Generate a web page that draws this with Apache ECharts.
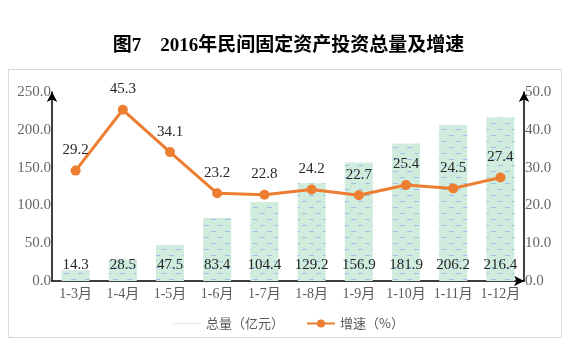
<!DOCTYPE html>
<html>
<head>
<meta charset="utf-8">
<script src="https://cdn.jsdelivr.net/npm/echarts@6/dist/echarts.min.js"></script>
<style>
  html, body { margin: 0; padding: 0; background: #fff; }
  #main { width: 577px; height: 351px; }
</style>
</head>
<body>
<div id="main"></div>
<script>
var months = ['1-3月', '1-4月', '1-5月', '1-6月', '1-7月', '1-8月', '1-9月', '1-10月', '1-11月', '1-12月'];
var totals = [14.3, 28.5, 47.5, 83.4, 104.4, 129.2, 156.9, 181.9, 206.2, 216.4];
var growth = [29.2, 45.3, 34.1, 23.2, 22.8, 24.2, 22.7, 25.4, 24.5, 27.4];

var serif = '"Liberation Serif", "DejaVu Serif", "Noto Sans CJK SC", serif';

// bar fill: light green with short blue dashes
function barPattern() {
    var c = document.createElement('canvas');
    c.width = 14;
    c.height = 12;
    var ctx = c.getContext('2d');
    ctx.fillStyle = '#cfecdc';
    ctx.fillRect(0, 0, 14, 12);
    ctx.fillStyle = '#9fc0e8';
    ctx.fillRect(1, 3, 5, 1);
    ctx.fillRect(8, 9, 5, 1);
    return c;
}

function oneDecimal(v) {
    return (typeof v === 'number' ? v : v.value).toFixed(1)
}

var chart = echarts.init(document.getElementById('main'));
chart.setOption({
    backgroundColor: '#fff',
    title: {
        text: '图7　2016年民间固定资产投资总量及增速',
        left: 'center',
        top: 32,
        textStyle: {
            fontFamily: serif,
            fontSize: 19,
            fontWeight: 'bold',
            color: '#000'
        }
    },
    graphic: [{
        type: 'rect',
        shape: { x: 8.5, y: 69.5, width: 553, height: 268 },
        style: { fill: 'none', stroke: '#d9d9d9', lineWidth: 1 },
        z: -1
    }],
    legend: {
        bottom: 16,
        left: 'center',
        itemWidth: 28,
        itemHeight: 10,
        itemGap: 22,
        textStyle: { color: '#595959', fontSize: 13, fontFamily: '"Noto Sans CJK SC", sans-serif' },
        data: [
            { name: '总量（亿元）', icon: 'path://M0,0H30V1H0Z', itemStyle: { color: '#dce8f6' } },
            { name: '增速（%）' }
        ]
    },
    grid: { left: 52, right: 53, top: 92, bottom: 70 },
    xAxis: {
        type: 'category',
        data: months,
        axisLine: { lineStyle: { color: '#000', width: 1.5 }, symbol: ['none', 'arrow'], symbolSize: [8, 10] },
        axisTick: { show: false },
        axisLabel: { color: '#595959', fontSize: 14, fontFamily: serif, margin: 6, interval: 0 }
    },
    yAxis: [{
        type: 'value',
        min: 0,
        max: 250,
        interval: 50,
        splitLine: { show: false },
        axisLine: { show: true, lineStyle: { color: '#000', width: 1.5 }, symbol: ['none', 'arrow'], symbolSize: [8, 10] },
        axisTick: { show: false },
        axisLabel: { color: '#666', fontSize: 15, fontFamily: serif, margin: 1, formatter: oneDecimal }
    }, {
        type: 'value',
        min: 0,
        max: 50,
        interval: 10,
        splitLine: { show: false },
        axisLine: { show: true, lineStyle: { color: '#000', width: 1.5 }, symbol: ['none', 'arrow'], symbolSize: [8, 10] },
        axisTick: { show: false },
        axisLabel: { color: '#666', fontSize: 15, fontFamily: serif, margin: 1, formatter: oneDecimal }
    }],
    series: [{
        name: '总量（亿元）',
        type: 'bar',
        data: totals,
        barWidth: 28,
        itemStyle: { color: { image: barPattern(), repeat: 'repeat' } },
        label: {
            show: true,
            position: 'insideBottom',
            distance: 8,
            color: '#262626',
            fontSize: 15,
            fontFamily: serif,
            formatter: oneDecimal
        }
    }, {
        name: '增速（%）',
        type: 'line',
        yAxisIndex: 1,
        data: growth,
        symbol: 'circle',
        symbolSize: 10,
        itemStyle: { color: '#ed7d31' },
        lineStyle: { color: '#ed7d31', width: 3 },
        label: {
            show: true,
            position: 'top',
            distance: 8,
            color: '#262626',
            fontSize: 15,
            fontFamily: serif,
            formatter: oneDecimal
        }
    }]
});
</script>
</body>
</html>
